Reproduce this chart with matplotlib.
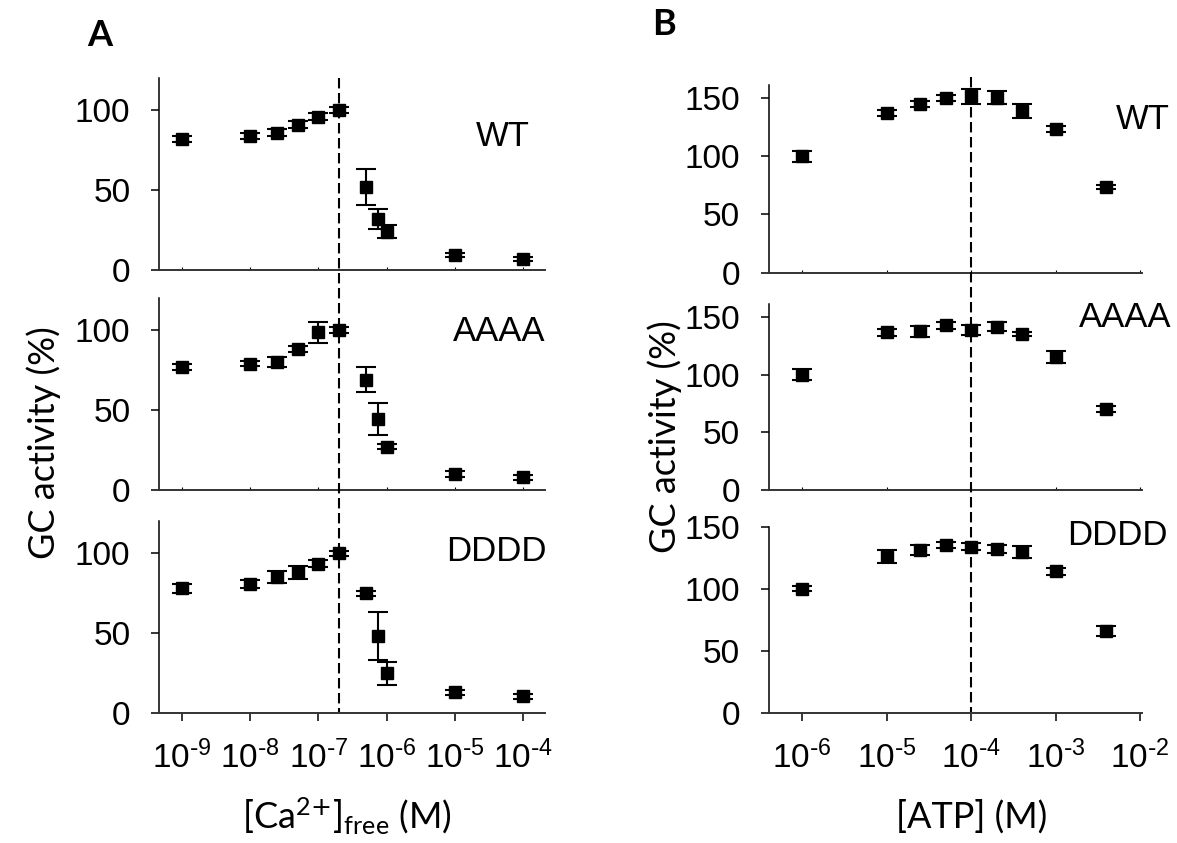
import matplotlib
matplotlib.use('Agg')
import matplotlib.pyplot as plt
from matplotlib.lines import Line2D
from matplotlib.transforms import blended_transform_factory

# --- Data ---
ca_conc = [1e-9, 1e-8, 2.5e-8, 5e-8, 1e-7, 2e-7, 5e-7, 7.5e-7, 1e-6, 1e-5, 1e-4]
wt_ca = [82, 84, 86, 91, 96, 100, 52, 32, 24, 9.5, 7]
wt_ca_err = [2, 2, 2, 2, 2, 2, 11, 6.5, 4, 1.5, 1.5]
aaaa_ca = [77, 79, 80, 88, 98.5, 100, 69, 44.5, 27, 10, 8]
aaaa_ca_err = [2, 1.5, 3, 2, 6.5, 2, 8, 10, 1.5, 2, 1.5]
dddd_ca = [78, 80.5, 85, 88, 93.5, 100, 75, 48.5, 25, 13, 10.5]
dddd_ca_err = [3, 2.5, 3.6, 4.3, 2, 1.5, 1.5, 15, 7.3, 1.5, 1.5]

atp_conc = [1e-6, 1e-5, 2.5e-5, 5e-5, 1e-4, 2e-4, 4e-4, 1e-3, 4e-3]
wt_atp = [100, 137, 145, 149.5, 151.5, 150, 139, 123.5, 73.5]
wt_atp_err = [4.7, 2.5, 2.5, 2.5, 6.4, 5.7, 6, 2.5, 2]
aaaa_atp = [100, 136.5, 137.5, 142.5, 138.5, 141.5, 135, 115.5, 70]
aaaa_atp_err = [5, 3, 4.7, 3, 4.3, 4, 2, 5.2, 2.5]
dddd_atp = [100, 126, 131.5, 135.5, 134, 132, 129.5, 114, 66]
dddd_atp_err = [2, 5.4, 4, 2.5, 3, 3, 4.7, 2.5, 4.3]

variants = ['WT', 'AAAA', 'DDDD']
ca_ticks = [1e-9, 1e-8, 1e-7, 1e-6, 1e-5, 1e-4]
ca_exps = ['9', '8', '7', '6', '5', '4']
atp_ticks = [1e-6, 1e-5, 1e-4, 1e-3, 1e-2]
atp_exps = ['6', '5', '4', '3', '2']
ca_yticks = [0, 50, 100]
atp_yticks = [0, 50, 100, 150]
ca_ref = 2e-7
atp_ref = 1e-4

plt.rcParams['font.family'] = ['Liberation Sans', 'DejaVu Sans']
plt.rcParams['mathtext.default'] = 'regular'
LABEL_FONT = ['Lato', 'DejaVu Sans']

fig = plt.figure(figsize=(11.77, 8.43), dpi=100)

# axes boxes in figure fraction (left, bottom, width, height)
a_boxes = [(0.1355, 0.6794, 0.3275, 0.2278),
           (0.1355, 0.4187, 0.3275, 0.2278),
           (0.1355, 0.1539, 0.3275, 0.2278)]
b_boxes = [(0.6534, 0.6765, 0.3167, 0.2227),
           (0.6534, 0.4187, 0.3167, 0.2206),
           (0.6534, 0.1539, 0.3167, 0.2214)]

ca_sets = [(wt_ca, wt_ca_err), (aaaa_ca, aaaa_ca_err), (dddd_ca, dddd_ca_err)]
atp_sets = [(wt_atp, wt_atp_err), (aaaa_atp, aaaa_atp_err), (dddd_atp, dddd_atp_err)]
a_label_pos = [(0.961, 0.647), (1.0, 0.778), (1.004, 0.793)]
b_label_pos = [(1.076, 0.764), (1.08, 0.878), (1.07, 0.902)]
b_ylims = [161, 161, 150]


def pow_labels(exps):
    # hyphen-style exponent like the original figure
    return [r'$\mathregular{10^{\text{-}%s}}$' % e for e in exps]


def style_axes(ax, bottom_row):
    for side in ['top', 'right']:
        ax.spines[side].set_visible(False)
    ax.spines['left'].set_linewidth(1.1)
    ax.spines['bottom'].set_linewidth(1.4)
    ax.spines['bottom'].set_color('#333333')
    ax.tick_params(axis='y', direction='out', length=6, width=1.1, pad=15, labelsize=24)
    ax.minorticks_off()
    if bottom_row:
        ax.tick_params(axis='x', direction='out', length=6, width=1.1, pad=14, labelsize=24)
    else:
        ax.tick_params(axis='x', direction='in', length=2, width=0.8, labelbottom=False)


def draw_panel(boxes, xs, sets, xlim, ylims, yticks, xticks, xticklabels, label_pos):
    axes = []
    for i, box in enumerate(boxes):
        ax = fig.add_axes(box)
        y, err = sets[i]
        ax.errorbar(xs, y, yerr=err, fmt='s', color='black', ms=8.5,
                    elinewidth=1.5, capsize=7, capthick=1.5)
        ax.set_xscale('log')
        ax.set_xlim(*xlim)
        ax.set_ylim(0, ylims[i])
        ax.set_yticks(yticks)
        ax.set_xticks(xticks)
        bottom_row = (i == len(boxes) - 1)
        style_axes(ax, bottom_row)
        if bottom_row:
            ax.set_xticklabels(xticklabels)
        lx, ly = label_pos[i]
        ax.text(lx, ly, variants[i], transform=ax.transAxes, ha='right',
                va='baseline', fontsize=25)
        axes.append(ax)
    return axes


a_axes = draw_panel(a_boxes, ca_conc, ca_sets, (10 ** -9.33, 10 ** -3.68), [120, 120, 120],
                    ca_yticks, ca_ticks, pow_labels(ca_exps), a_label_pos)
b_axes = draw_panel(b_boxes, atp_conc, atp_sets, (10 ** -6.39, 10 ** -1.98), b_ylims,
                    atp_yticks, atp_ticks, pow_labels(atp_exps), b_label_pos)

# dashed reference lines running through all three rows
for ax, xref, ytop in [(a_axes[0], ca_ref, 1 - 78 / 843), (b_axes[0], atp_ref, 1 - 77 / 843)]:
    trans = blended_transform_factory(ax.transData, fig.transFigure)
    fig.add_artist(Line2D([xref, xref], [ytop, 1 - 712 / 843], transform=trans,
                          color='black', lw=1.5, dashes=(5, 2.2), clip_on=False))

# axis titles and panel letters
fig.text(0.2946, 0.0178, r'[Ca$^{2\text{+}}$]$_{free}$ (M)', ha='center', va='baseline',
         fontsize=26, family=LABEL_FONT)
fig.text(0.8256, 0.0178, '[ATP] (M)', ha='center', va='baseline',
         fontsize=26, family=LABEL_FONT)
fig.text(0.0374, 0.4745, 'GC activity (%)', rotation=90, ha='center', va='center',
         fontsize=26, family=LABEL_FONT)
fig.text(0.565, 0.4816, 'GC activity (%)', rotation=90, ha='center', va='center',
         fontsize=26, family=LABEL_FONT)
fig.text(0.074, 0.945, 'A', fontsize=26, fontweight='bold', family=LABEL_FONT)
fig.text(0.554, 0.958, 'B', fontsize=26, fontweight='bold', family=LABEL_FONT)

fig.savefig('out.png', dpi=100)
